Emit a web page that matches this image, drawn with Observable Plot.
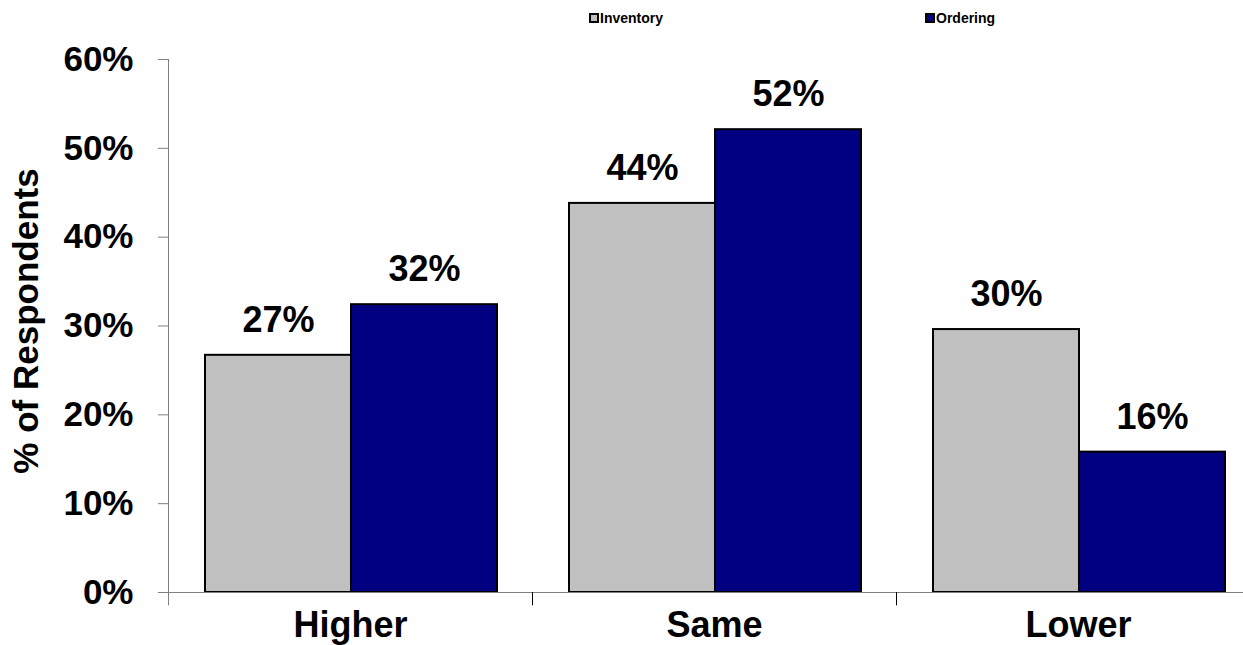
<!DOCTYPE html>
<html>
<head>
<meta charset="utf-8">
<script src="https://cdn.jsdelivr.net/npm/d3@7"></script>
<script src="https://cdn.jsdelivr.net/npm/@observablehq/plot@0.6"></script>
<style>
  body { margin: 0; background: #fff; font-family: "Liberation Sans", Arial, sans-serif; }
  #wrap { position: relative; width: 1243px; height: 645px; overflow: hidden; }
  .leg { position: absolute; top: 10px; font-size: 14px; font-weight: bold; display: flex; align-items: center; line-height: 16px; }
  .sw { width: 6px; height: 6px; border: 1.5px solid #000; outline: 0.5px solid #000; margin-right: 2px; }
  svg { overflow: visible; }
</style>
</head>
<body>
<div id="wrap">
  <div class="leg" style="left:590px"><span class="sw" style="background:#c0c0c0"></span>Inventory</div>
  <div class="leg" style="left:926px"><span class="sw" style="background:#000080"></span>Ordering</div>
  <div id="chart"></div>
</div>
<script>
const categories = ["Higher", "Same", "Lower"];
const seriesNames = ["Inventory", "Ordering"];
const inventory = [26.7, 43.8, 29.6];
const ordering = [32.4, 52.1, 15.8];
const yTicks = [0, 10, 20, 30, 40, 50, 60];
const yTitle = "% of Respondents";
const colors = ["#c0c0c0", "#000080"];

const invData = categories.map((c, i) => ({category: c, series: seriesNames[0], value: inventory[i]}));
const ordData = categories.map((c, i) => ({category: c, series: seriesNames[1], value: ordering[i]}));

const font = {fontFamily: "Liberation Sans, Arial, sans-serif", fontWeight: "bold"};

const chart = Plot.plot({
  width: 1243,
  height: 645,
  marginTop: 59,
  marginBottom: 53,
  marginLeft: 168,
  marginRight: 0,
  style: {fontFamily: "Liberation Sans, Arial, sans-serif", background: "transparent", overflow: "visible"},
  x: {domain: categories, range: [168, 1260], padding: 0},
  y: {domain: [0, 60]},
  color: {domain: seriesNames, range: colors},
  marks: [
    Plot.barY(invData, {x: "category", y: "value", fill: "series", stroke: "#000", strokeWidth: 2, insetLeft: 37, insetRight: 181}),
    Plot.barY(ordData, {x: "category", y: "value", fill: "series", stroke: "#000", strokeWidth: 2, insetLeft: 183, insetRight: 35}),
    Plot.text(invData, {x: "category", y: "value", text: d => Math.round(d.value) + "%", dx: -72, dy: -35, fontSize: 36, ...font, fill: "#000"}),
    Plot.text(ordData, {x: "category", y: "value", text: d => Math.round(d.value) + "%", dx: 74, dy: -35, fontSize: 36, ...font, fill: "#000"}),
    Plot.frame({anchor: "left", stroke: "#808080"}),
    Plot.frame({anchor: "bottom", stroke: "#808080"}),
    Plot.ruleX(categories, {x: d => d, dx: 182, y1: 0, y2: -1.5, stroke: "#000"}),
    Plot.ruleX([categories[0]], {x: d => d, dx: -182, y1: 0, y2: -1.5, stroke: "#808080"}),
    Plot.axisY({ticks: yTicks, tickFormat: d => d + "%", tickSize: 10, tickPadding: 25, stroke: "#808080", fill: "#000", fontSize: 35, ...font, label: null}),
    Plot.text([yTitle], {text: d => d, frameAnchor: "left", textAnchor: "middle", dx: -142, dy: -5, rotate: -90, fontSize: 35, ...font, fill: "#000"}),
    Plot.axisX({tickSize: 0, tickPadding: 19, fontSize: 36, ...font, fill: "#000", label: null})
  ]
});
document.getElementById("chart").appendChild(chart);
</script>
</body>
</html>
